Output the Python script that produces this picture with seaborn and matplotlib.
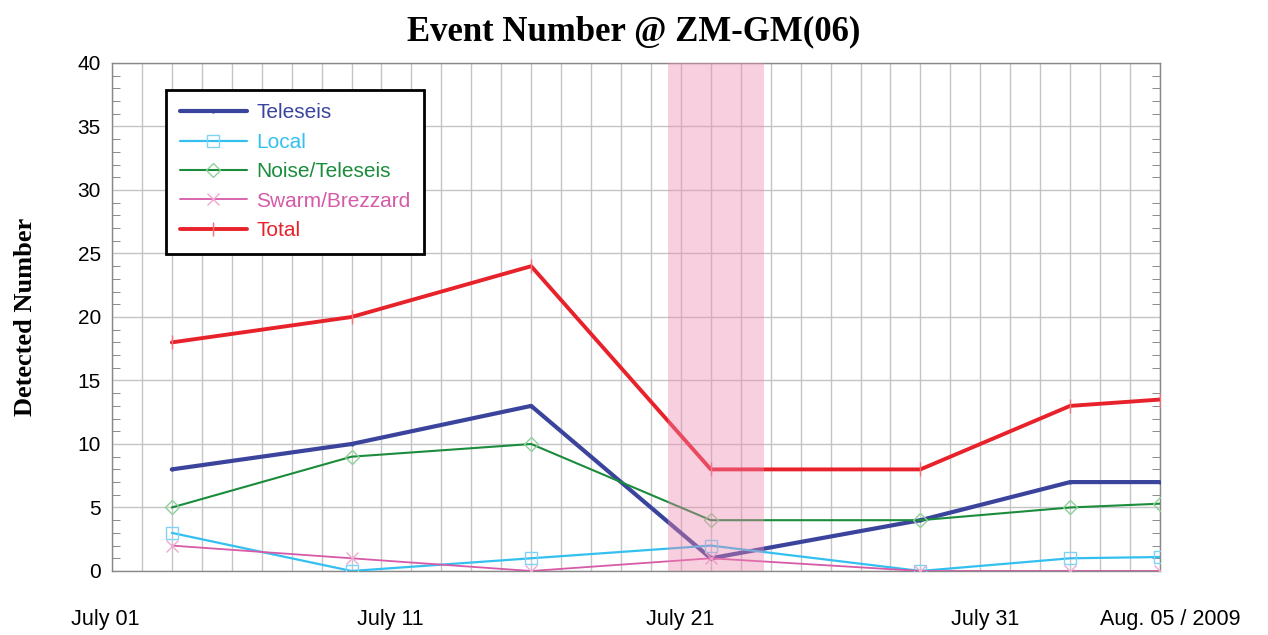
import pandas as pd
import numpy as np
import matplotlib
matplotlib.use('Agg')
import matplotlib.pyplot as plt
import matplotlib.dates as mdates
import matplotlib.transforms as mtrans
from matplotlib.ticker import MultipleLocator
import seaborn as sns

sns.set_style("white")
plt.rcParams['font.family'] = ['Liberation Sans', 'DejaVu Sans']
plt.rcParams['text.color'] = 'black'
plt.rcParams['axes.labelcolor'] = 'black'
plt.rcParams['ytick.labelcolor'] = 'black'

# Dados
datas = pd.to_datetime(['2009-07-03', '2009-07-09', '2009-07-15', '2009-07-21',
                        '2009-07-28', '2009-08-02', '2009-08-05'])
teleseis = [8, 10, 13, 1, 4, 7, 7]
local = [3, 0, 1, 2, 0, 1, 1.1]
noise_teleseis = [5, 9, 10, 4, 4, 5, 5.3]
swarm = [2, 1, 0, 1, 0, 0, 0]
total = [18, 20, 24, 8, 8, 13, 13.5]

nomes = ['Teleseis', 'Local', 'Noise/Teleseis', 'Swarm/Brezzard', 'Total']
series = [teleseis, local, noise_teleseis, swarm, total]
cores = ['#3b449c', '#33c0f0', '#1a8c3c', '#d65aa8', '#e8222b']
cores_marker = ['#3b449c', '#7fd4f5', '#8fd09a', '#f0a8d0', '#f07078']
marcadores = ['.', 's', 'D', 'x', '|']
tamanhos = [4, 9, 7, 9, 10]
larguras = [3.0, 1.6, 1.5, 1.3, 2.8]

rotulos_x = ['July 01', 'July 11', 'July 21', 'July 31', 'Aug. 05 / 2009']
datas_rotulos = pd.to_datetime(['2009-07-01', '2009-07-11', '2009-07-21', '2009-07-31', '2009-08-05'])
desloc_px = [-7, -21, -31, -25, 10]

inicio = pd.Timestamp('2009-07-01')
fim = pd.Timestamp('2009-08-05')
faixa = (pd.Timestamp('2009-07-19 14:00'), pd.Timestamp('2009-07-22 19:00'))

fig = plt.figure(figsize=(12.68, 6.35), dpi=100)
ax = fig.add_axes([0.0883, 0.1008, 0.8265, 0.8])

for nome, valores, cor, cm, mk, ms, lw in zip(nomes, series, cores, cores_marker, marcadores, tamanhos, larguras):
    df = pd.DataFrame({'data': datas, 'valor': valores})
    sns.lineplot(data=df, x='data', y='valor', ax=ax, color=cor, linewidth=lw, label=nome,
                 marker=mk, markersize=ms, markerfacecolor='none' if mk in 'sD' else cor,
                 markeredgecolor=cm, markeredgewidth=1.0, zorder=3)

# Faixa rosa sobre as linhas
ax.axvspan(faixa[0], faixa[1], color='#ee88b0', alpha=0.4, lw=0, zorder=4)

ax.set_xlim(inicio, fim)
ax.set_ylim(0, 40)
ax.xaxis.set_major_locator(mdates.DayLocator(interval=1))
ax.xaxis.set_minor_locator(mdates.DayLocator(bymonthday=[1, 6, 11, 16, 21, 26, 31]))
ax.yaxis.set_major_locator(MultipleLocator(5))
ax.yaxis.set_minor_locator(MultipleLocator(1))
ax.grid(True, which='major', color='#c4c4c4', linewidth=1.0, zorder=0)
ax.set_axisbelow(True)
ax.tick_params(axis='x', which='major', length=0, labelbottom=False)
ax.tick_params(axis='x', which='minor', length=5, direction='in', top=True, bottom=True,
               color='#666666', labelbottom=False)
ax.tick_params(axis='y', which='both', direction='in', left=True, right=True, color='#777777',
               labelsize=15, pad=8, labelcolor='black')
ax.tick_params(axis='y', which='major', length=0)
ax.tick_params(axis='y', which='minor', length=6)
for s in ax.spines.values():
    s.set_color('#888888')
    s.set_linewidth(1.0)

for d, txt, dx in zip(datas_rotulos, rotulos_x, desloc_px):
    tr = ax.get_xaxis_transform() + mtrans.ScaledTranslation(dx / 100, 0, fig.dpi_scale_trans)
    ax.text(d, -0.095, txt, transform=tr, ha='center', va='center', fontsize=15.5, color='black')

ax.set_xlabel('')
ax.set_ylabel('Detected Number', fontsize=19, fontweight='bold', family='Liberation Serif',
              labelpad=29, color='black')
fig.suptitle('Event Number @ ZM-GM(06)', fontsize=25, fontweight='bold', family='Liberation Serif',
             y=0.976, color='black')

leg = ax.legend(loc='upper left', bbox_to_anchor=(0.052, 0.947), borderaxespad=0, fontsize=15,
                handlelength=3.2, labelspacing=0.5, frameon=True, fancybox=False,
                edgecolor='black', framealpha=1, borderpad=0.65, handletextpad=0.45)
leg.get_frame().set_linewidth(2.0)
for t, c in zip(leg.get_texts(), cores):
    t.set_color(c)
leg.set_zorder(10)

plt.savefig('out.png', dpi=100)
